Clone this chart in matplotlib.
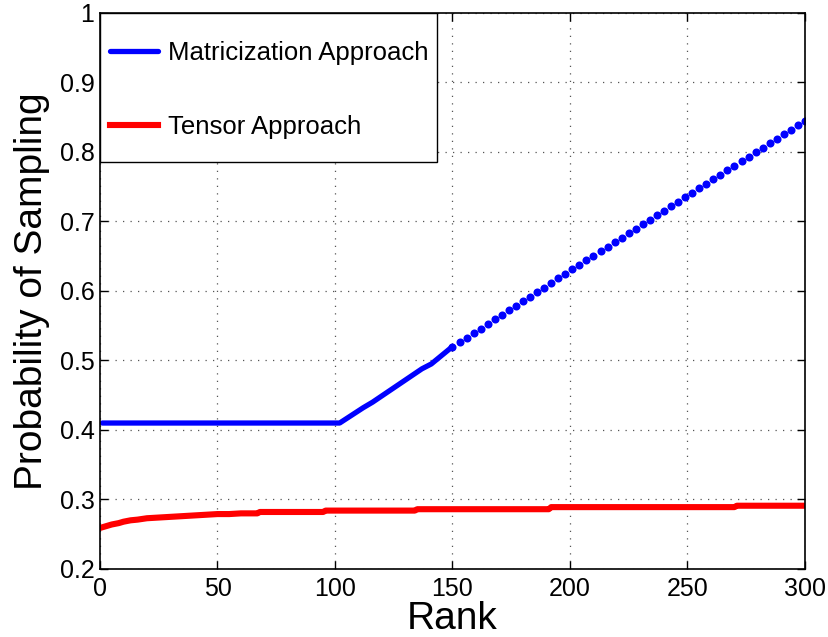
import matplotlib
matplotlib.use('Agg')
import matplotlib.pyplot as plt
from matplotlib.patches import Rectangle

plt.rcParams['font.family'] = ['Liberation Sans', 'DejaVu Sans']

# Matricization approach: dense part drawn as a line, sparse part as dots
matrix_rank = [1, 102, 112, 116, 137, 141, 150]
matrix_prob = [0.41, 0.41, 0.432, 0.44, 0.488, 0.495, 0.52]

matrix_dot_rank = list(range(150, 301, 3))
matrix_dot_prob = [0.520, 0.527, 0.533, 0.540, 0.546, 0.553, 0.559, 0.566, 0.572, 0.579,
                   0.585, 0.592, 0.598, 0.605, 0.611, 0.618, 0.624, 0.631, 0.637, 0.644,
                   0.650, 0.657, 0.663, 0.670, 0.676, 0.683, 0.689, 0.696, 0.702, 0.709,
                   0.715, 0.722, 0.728, 0.735, 0.741, 0.748, 0.754, 0.761, 0.767, 0.774,
                   0.780, 0.787, 0.793, 0.800, 0.806, 0.813, 0.819, 0.826, 0.832, 0.839,
                   0.845]

tensor_rank = [1, 3, 5, 8, 10, 13, 16, 20, 25, 30, 35, 40, 45, 50, 55, 60, 67, 68,
               95, 96, 134, 135, 191, 192, 270, 271, 300]
tensor_prob = [0.260, 0.262, 0.264, 0.266, 0.268, 0.270, 0.271, 0.273, 0.274, 0.275,
               0.276, 0.277, 0.278, 0.279, 0.279, 0.280, 0.280, 0.282,
               0.282, 0.284, 0.284, 0.286, 0.286, 0.289, 0.289, 0.291, 0.291]

fig = plt.figure(figsize=(8.29, 6.37), dpi=100)
ax = fig.add_axes([0.1206, 0.1068, 0.8504, 0.8728])

line_m, = ax.plot(matrix_rank, matrix_prob, color='#0000ff', lw=3.8,
                  solid_capstyle='round', label='Matricization Approach')
ax.plot(matrix_dot_rank, matrix_dot_prob, 'o', color='#0000ff', ms=5.8, mec='none')
line_t, = ax.plot(tensor_rank, tensor_prob, color='#ff0000', lw=4.4,
                  label='Tensor Approach')

ax.set_xlim(0, 300)
ax.set_ylim(0.2, 1.0)
ax.set_xticks(range(0, 301, 50))
ax.set_yticks([0.2, 0.3, 0.4, 0.5, 0.6, 0.7, 0.8, 0.9, 1.0])
ax.set_yticklabels(['0.2', '0.3', '0.4', '0.5', '0.6', '0.7', '0.8', '0.9', '1'])
ax.tick_params(direction='in', top=True, right=True, length=6, width=1,
               labelsize=18)
ax.tick_params(axis='y', pad=4)
ax.tick_params(axis='x', pad=6)
ax.grid(True, color='#555555', linestyle=(0, (1, 5)), linewidth=0.9)
for s in ax.spines.values():
    s.set_linewidth(1.2)

ax.set_xlabel('Rank', fontsize=28, labelpad=0)
ax.set_ylabel('Probability of Sampling', fontsize=28, labelpad=7)

# legend box drawn by hand so padding can differ horizontally / vertically
box = Rectangle((0, 0.732), 0.478, 0.268, transform=ax.transAxes,
                facecolor='white', edgecolor='black', lw=1.0, zorder=4)
ax.add_patch(box)
leg = ax.legend(handles=[line_m, line_t], loc='upper left', fontsize=18.5,
                frameon=False, bbox_to_anchor=(0.0, 0.968),
                borderaxespad=0, borderpad=0.4, labelspacing=1.96,
                handlelength=1.85, handletextpad=0.4)
leg.set_zorder(5)

fig.savefig('out.png', dpi=100)
